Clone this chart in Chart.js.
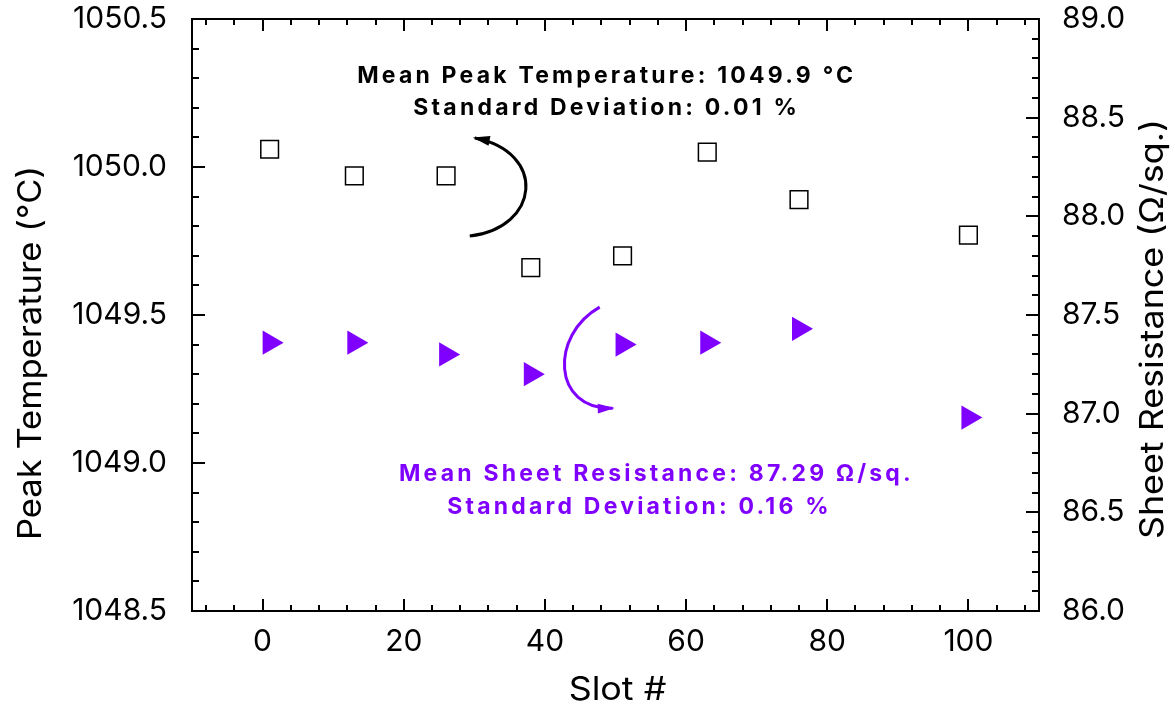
<!DOCTYPE html>
<html>
<head>
<meta charset="utf-8">
<script src="https://cdn.jsdelivr.net/npm/chart.js@4.4.0/dist/chart.umd.min.js"></script>
<style>
  html, body { margin: 0; padding: 0; background: #fff; }
</style>
</head>
<body>
<canvas id="slotChart" width="1175" height="710"></canvas>
<script>
// Slot number of each measured wafer
const slots = [1, 13, 26, 38, 51, 63, 76, 100];
// Peak temperature per slot (°C)
const peakTemps = [1050.06, 1049.97, 1049.97, 1049.66, 1049.70, 1050.05, 1049.89, 1049.77];
// Sheet resistance per slot (Ω/sq.)
const sheetRes = [87.36, 87.36, 87.30, 87.20, 87.35, 87.36, 87.43, 86.98];

// Labelled ticks
const slotTicks = [0, 20, 40, 60, 80, 100];
const tempTicks = [1048.5, 1049.0, 1049.5, 1050.0, 1050.5];
const resTicks = [86.0, 86.5, 87.0, 87.5, 88.0, 88.5, 89.0];

// Summary notes
const tempNote = ['Mean Peak Temperature: 1049.9 °C', 'Standard Deviation: 0.01 %'];
const resNote = ['Mean Sheet Resistance: 87.29 Ω/sq.', 'Standard Deviation: 0.16 %'];

const PURPLE = '#8000ff';
const FONT = 'Inter, "Liberation Sans", sans-serif';

// curved arrows, in data units: [slot, value] for start, two control points, tip
const tempArrow = [[29.35, 1049.767], [39.26, 1049.794], [40.39, 1050.050], [30.06, 1050.098]];
const resArrow = [[47.76, 87.540], [40.68, 87.398], [40.97, 87.018], [49.61, 87.028]];

function fixedTicks(values) {
  return scale => { scale.ticks = values.map(v => ({ value: v })); };
}

// vertical axes: fixed width, no extra room reserved for end labels
function fitVertical(width) {
  return scale => {
    scale.width = width;
    scale.paddingTop = 0;
    scale.paddingBottom = 0;
  };
}

// text widened along its baseline
function wideText(ctx, text, cx, cy, angle, stretch) {
  ctx.save();
  ctx.translate(cx, cy);
  ctx.rotate(angle);
  ctx.scale(stretch, 1);
  ctx.fillText(text, 0, 0);
  ctx.restore();
}

// frame, inward ticks, titles, arrows and notes
const decorations = {
  id: 'decorations',
  afterDraw(chart) {
    const { ctx, chartArea: a, scales: { x, y, y2 } } = chart;
    ctx.save();

    ctx.strokeStyle = '#000';
    ctx.lineWidth = 2;
    ctx.strokeRect(a.left, a.top, a.right - a.left, a.bottom - a.top);

    const seg = (x1, y1, x2, y2_) => {
      ctx.beginPath(); ctx.moveTo(x1, y1); ctx.lineTo(x2, y2_); ctx.stroke();
    };

    // slot axis: minor every 4, major every 20 (top and bottom)
    for (let v = -8; v <= 108; v += 4) {
      const px = Math.round(x.getPixelForValue(v));
      const len = v % 20 === 0 ? 12 : 6;
      seg(px, a.bottom, px, a.bottom - len);
      seg(px, a.top, px, a.top + len);
    }
    // temperature axis: minor every 0.1, major every 0.5
    for (let i = 1; i < 20; i++) {
      const py = Math.round(y.getPixelForValue(1048.5 + i * 0.1));
      seg(a.left, py, a.left + (i % 5 === 0 ? 13 : 7), py);
    }
    // resistance axis
    for (let i = 1; i < 30; i++) {
      const py = Math.round(y2.getPixelForValue(86 + i * 0.1));
      seg(a.right, py, a.right - (i % 5 === 0 ? 13 : 7), py);
    }

    // axis titles
    ctx.fillStyle = '#000';
    ctx.font = '32px ' + FONT;
    ctx.textAlign = 'center';
    ctx.textBaseline = 'middle';
    wideText(ctx, 'Slot #', (a.left + a.right) / 2 + 2, 690, 0, 1.12);
    wideText(ctx, 'Peak Temperature (°C)', 31, 353, -Math.PI / 2, 1.08);
    wideText(ctx, 'Sheet Resistance (Ω/sq.)', 1153, 329, -Math.PI / 2, 1.12);

    const arrow = (pts, yScale, color) => {
      const p = pts.map(([sx, sv]) => [x.getPixelForValue(sx), yScale.getPixelForValue(sv)]);
      ctx.strokeStyle = color;
      ctx.fillStyle = color;
      ctx.lineWidth = 3;
      ctx.beginPath();
      ctx.moveTo(p[0][0], p[0][1]);
      ctx.bezierCurveTo(p[1][0], p[1][1], p[2][0], p[2][1], p[3][0], p[3][1]);
      ctx.stroke();
      const dx = p[3][0] - p[2][0], dy = p[3][1] - p[2][1];
      const d = Math.hypot(dx, dy), ux = dx / d, uy = dy / d;
      const L = 15, W = 5;
      const bx = p[3][0] - ux * L, by = p[3][1] - uy * L;
      ctx.beginPath();
      ctx.moveTo(p[3][0] + ux * 2, p[3][1] + uy * 2);
      ctx.lineTo(bx - uy * W, by + ux * W);
      ctx.lineTo(bx + uy * W, by - ux * W);
      ctx.closePath();
      ctx.fill();
    };
    arrow(tempArrow, y, '#000');
    arrow(resArrow, y2, PURPLE);

    ctx.font = 'bold 23px ' + FONT;
    ctx.letterSpacing = '3.2px';
    ctx.textAlign = 'center';
    ctx.textBaseline = 'middle';
    ctx.fillStyle = '#000';
    ctx.fillText(tempNote[0], x.getPixelForValue(48.75), y.getPixelForValue(1050.307));
    ctx.fillText(tempNote[1], x.getPixelForValue(48.75), y.getPixelForValue(1050.199));
    ctx.fillStyle = PURPLE;
    ctx.fillText(resNote[0], x.getPixelForValue(55.8), y2.getPixelForValue(86.693));
    ctx.fillText(resNote[1], x.getPixelForValue(53.4), y2.getPixelForValue(86.526));

    ctx.restore();
  }
};

new Chart(document.getElementById('slotChart'), {
  type: 'scatter',
  data: {
    datasets: [
      {
        label: 'Peak Temperature',
        data: slots.map((s, i) => ({ x: s, y: peakTemps[i] })),
        yAxisID: 'y',
        pointStyle: 'rect',
        pointRadius: 12.5,
        backgroundColor: '#ffffff',
        borderColor: '#000000',
        borderWidth: 1.5
      },
      {
        label: 'Sheet Resistance',
        data: slots.map((s, i) => ({ x: s, y: sheetRes[i] })),
        yAxisID: 'y2',
        pointStyle: 'triangle',
        rotation: 90,
        pointRadius: 14,
        backgroundColor: PURPLE,
        borderColor: PURPLE,
        borderWidth: 0
      }
    ]
  },
  plugins: [decorations],
  options: {
    responsive: false,
    animation: false,
    layout: { padding: { top: 19, left: 0, right: 0, bottom: 0 } },
    plugins: { legend: { display: false }, tooltip: { enabled: false } },
    scales: {
      x: {
        type: 'linear',
        min: -10,
        max: 110,
        afterBuildTicks: fixedTicks(slotTicks),
        afterFit: s => { s.height = 99; s.paddingLeft = 0; s.paddingRight = 0; },
        grid: { display: false },
        border: { display: false },
        ticks: { color: '#000', font: { family: FONT, size: 30 }, padding: 5 }
      },
      y: {
        type: 'linear',
        position: 'left',
        min: 1048.5,
        max: 1050.5,
        afterBuildTicks: fixedTicks(tempTicks),
        afterFit: fitVertical(192),
        grid: { display: false },
        border: { display: false },
        ticks: { color: '#000', font: { family: FONT, size: 30 }, padding: 17, callback: v => v.toFixed(1) }
      },
      y2: {
        type: 'linear',
        position: 'right',
        min: 86,
        max: 89,
        afterBuildTicks: fixedTicks(resTicks),
        afterFit: fitVertical(136),
        grid: { display: false },
        border: { display: false },
        ticks: { color: '#000', font: { family: FONT, size: 30 }, padding: 15, callback: v => v.toFixed(1) }
      }
    }
  }
});
</script>
</body>
</html>
